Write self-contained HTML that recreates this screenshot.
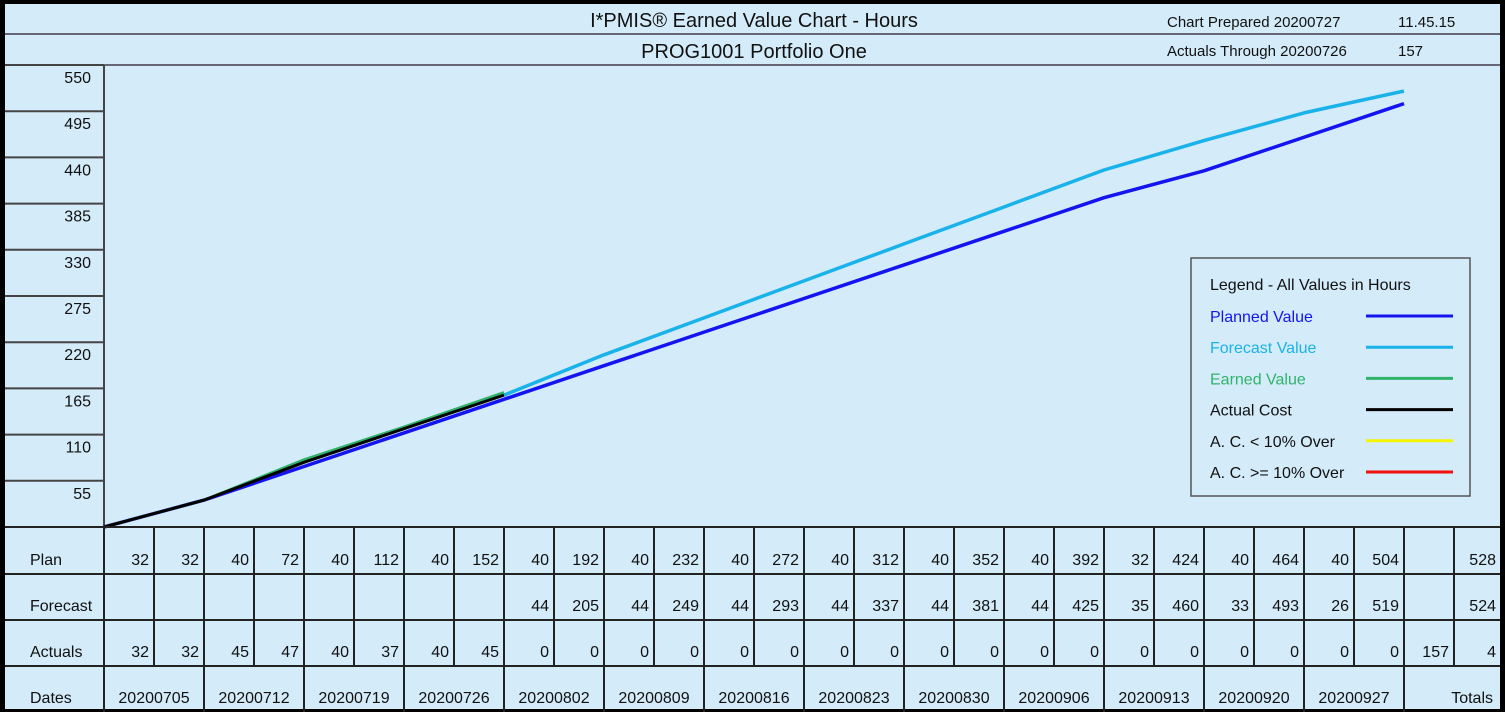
<!DOCTYPE html>
<html><head><meta charset="utf-8"><style>
html,body{margin:0;padding:0;background:#000;}
svg{display:block;font-family:"Liberation Sans",Arial,sans-serif;}
</style></head><body>
<svg id="c" width="1505" height="712" viewBox="0 0 1505 712">
<rect x="0" y="0" width="1505" height="712" fill="#000"/>
<rect x="5" y="4" width="1495" height="705" fill="#d4ebfa"/>
<g id="hdr">
<line x1="5" y1="34" x2="1500" y2="34" stroke="#667" stroke-width="2"/>
<line x1="5" y1="65" x2="1500" y2="65" stroke="#667" stroke-width="2"/>
<text x="754" y="27" font-size="20" text-anchor="middle" fill="#111">I*PMIS® Earned Value Chart - Hours</text>
<text x="754" y="58" font-size="20" text-anchor="middle" fill="#111">PROG1001 Portfolio One</text>
<text x="1167" y="27" font-size="15" fill="#111">Chart Prepared  20200727</text>
<text x="1398" y="27" font-size="15" fill="#111">11.45.15</text>
<text x="1167" y="56" font-size="15" fill="#111">Actuals Through 20200726</text>
<text x="1398" y="56" font-size="15" fill="#111">157</text>
</g>
<g id="yax"></g>
<g id="lines"></g>
<g id="tbl"></g>
<g id="leg">
<rect x="1191" y="258" width="279" height="238" fill="#d4ebfa" stroke="#555" stroke-width="1.5"/>
</g>
</svg>
<script>
const yTicks=[55,110,165,220,275,330,385,440,495,550];
const planCum=[0,32,72,112,152,192,232,272,312,352,392,424,464,504];
const forecastCum=[157,205,249,293,337,381,425,460,493,519];
const forecastStart=4;
const earnedCum=[0,32,80,119,160];
const actualCum=[0,32,77,117,157];
const planRow=["32","32","40","72","40","112","40","152","40","192","40","232","40","272","40","312","40","352","40","392","32","424","40","464","40","504","","528"];
const forecastRow=["","","","","","","","","44","205","44","249","44","293","44","337","44","381","44","425","35","460","33","493","26","519","","524"];
const actualsRow=["32","32","45","47","40","37","40","45","0","0","0","0","0","0","0","0","0","0","0","0","0","0","0","0","0","0","157","4"];
const dates=["20200705","20200712","20200719","20200726","20200802","20200809","20200816","20200823","20200830","20200906","20200913","20200920","20200927"];
const rowLabels=["Plan","Forecast","Actuals","Dates"];
const legendItems=["Planned Value","Forecast Value","Earned Value","Actual Cost","A. C. < 10% Over","A. C. >= 10% Over"];
const legendColors=["#1414f0","#1ab2ea","#2fb36a","#000","#f5f500","#f01010"];

const NS="http://www.w3.org/2000/svg";
const X0=104,Y0=527,YTOP=65,YMAX=550;
const xW=i=>X0+100*i;
const y=v=>Y0-v*(Y0-YTOP)/YMAX;
function mk(t,a,p){const e=document.createElementNS(NS,t);for(const k in a)e.setAttribute(k,a[k]);p.appendChild(e);return e;}

// y axis
const yax=document.getElementById('yax');
mk('line',{x1:X0,y1:YTOP,x2:X0,y2:Y0,stroke:'#444','stroke-width':2},yax);
yTicks.forEach(v=>{
  const l=mk('line',{x1:5,y1:y(v),x2:X0,y2:y(v),stroke:'#444','stroke-width':2},yax);
  
  
  const t=mk('text',{x:91,y:y(v)+18,'font-size':16,'text-anchor':'end',fill:'#111'},yax);
  t.textContent=v;
  
  
});

// series
const lg=document.getElementById('lines');
function poly(vals,start,color,w,name){
  const pts=vals.map((v,i)=>xW(start+i)+','+y(v)).join(' ');
  const p=mk('polyline',{points:pts,fill:'none',stroke:color,'stroke-width':w,'stroke-linejoin':'round'},lg);
  
  
}
poly(forecastCum,forecastStart,'#1ab2ea',3.5,'forecast-value-line');
poly(planCum,0,'#1414f0',3.5,'planned-value-line');
poly(earnedCum,0,'#2fb36a',3,'earned-value-line');
poly(actualCum,0,'#000',3,'actual-cost-line');

// table
const tb=document.getElementById('tbl');
const rowsY=[527,574,620,666,712];
const rows=[planRow,forecastRow,actualsRow];
for(let r=0;r<4;r++){
  const t=mk('text',{x:30,y:rowsY[r+1]-9,'font-size':16,fill:'#111'},tb);
  t.textContent=rowLabels[r];
  
  
}
rowsY.slice(0,4).forEach(yy=>{mk('line',{x1:5,y1:yy,x2:1500,y2:yy,stroke:'#222','stroke-width':2},tb);});
const colX=i=>i<27?X0+50*i:1500;
for(let c=0;c<=28;c++){
  const x=c<=27?X0+50*c:1500;
  if(c===28)continue;
  mk('line',{x1:x,y1:527,x2:x,y2:666,stroke:'#222','stroke-width':2},tb);
  if(c%2===0)mk('line',{x1:x,y1:666,x2:x,y2:712,stroke:'#222','stroke-width':2},tb);
}
rows.forEach((row,r)=>{
  row.forEach((v,c)=>{
    if(v==="")return;
    const right=c<27?X0+50*(c+1)-5:1496;
    const t=mk('text',{x:right,y:rowsY[r+1]-9,'font-size':16,'text-anchor':'end',fill:'#111'},tb);
    t.textContent=v;
    
    
  });
});
dates.forEach((d,i)=>{
  const t=mk('text',{x:X0+100*i+50,y:703,'font-size':16,'text-anchor':'middle',fill:'#111'},tb);
  t.textContent=d;
  
  
});
const tt=mk('text',{x:1493,y:703,'font-size':16,'text-anchor':'end',fill:'#111'},tb);
tt.textContent='Totals';



// legend
const lgd=document.getElementById('leg');
const ht=mk('text',{x:1210,y:290,'font-size':16,fill:'#111'},lgd);
ht.textContent='Legend - All Values in Hours';


legendItems.forEach((s,i)=>{
  const yy=316+31.2*i;
  const t=mk('text',{x:1210,y:yy+6,'font-size':16,fill:i<3?legendColors[i]:'#111'},lgd);
  t.textContent=s;
  
  
  const l=mk('line',{x1:1366,y1:yy,x2:1453,y2:yy,stroke:legendColors[i],'stroke-width':3},lgd);
  
  
});
</script>
</body></html>
